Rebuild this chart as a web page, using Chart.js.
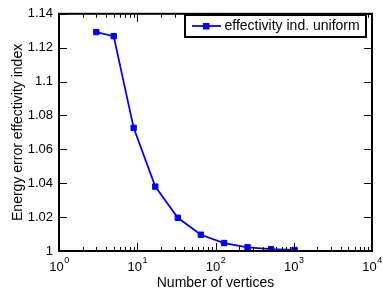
<!DOCTYPE html>
<html>
<head>
<meta charset="utf-8">
<script src="https://cdn.jsdelivr.net/npm/chart.js@4"></script>
<style>
  html, body { margin: 0; padding: 0; background: #fff; }
  #wrap { width: 383px; height: 288px; }
</style>
</head>
<body>
<div id="wrap"><canvas id="effChart"></canvas></div>
<script>
// data
const vertices = [3, 5, 9, 17, 33, 65, 129, 257, 513, 1025];
const effectivity = [1.1292, 1.1268, 1.0727, 1.038, 1.0196, 1.0096, 1.0047, 1.0022, 1.0011, 1.0006];
const xMajorTicks = [1, 10, 100, 1000, 10000];
const xExponents = ['0', '1', '2', '3', '4'];
const seriesLabel = 'effectivity ind. uniform';

const FONT = '"Liberation Sans", Arial, sans-serif';

// box, inward ticks, superscript x labels and legend in the MATLAB look
const matlabAxes = {
  id: 'matlabAxes',
  afterDraw(chart) {
    const ctx = chart.ctx;
    const area = chart.chartArea;
    const xs = chart.scales.x;
    const ys = chart.scales.y;

    ctx.save();
    ctx.strokeStyle = '#000';
    ctx.lineWidth = 1;

    // y ticks, left and right
    ys.ticks.forEach(t => {
      const y = Math.round(ys.getPixelForValue(t.value)) + 0.5;
      ctx.beginPath();
      ctx.moveTo(area.left, y); ctx.lineTo(area.left + 8, y);
      ctx.moveTo(area.right, y); ctx.lineTo(area.right - 8, y);
      ctx.stroke();
    });

    // x ticks, bottom and top (major + minor)
    xMajorTicks.forEach((v, i) => {
      const mults = i < xMajorTicks.length - 1 ? [1, 2, 3, 4, 5, 6, 7, 8, 9] : [1];
      mults.forEach(m => {
        const len = m === 1 ? 8 : 4;
        const x = Math.round(xs.getPixelForValue(v * m)) + 0.5;
        ctx.beginPath();
        ctx.moveTo(x, area.bottom); ctx.lineTo(x, area.bottom - len);
        ctx.moveTo(x, area.top); ctx.lineTo(x, area.top + len);
        ctx.stroke();
      });
    });

    // frame
    ctx.lineWidth = 2;
    ctx.strokeRect(area.left, area.top, area.right - area.left, area.bottom - area.top);

    // x tick labels as 10^k
    ctx.fillStyle = '#000';
    ctx.textBaseline = 'alphabetic';
    xMajorTicks.forEach((v, i) => {
      const x = xs.getPixelForValue(v);
      ctx.font = '13px ' + FONT;
      const wBase = ctx.measureText('10').width;
      ctx.font = '9px ' + FONT;
      const wExp = ctx.measureText(xExponents[i]).width;
      const x0 = x - (wBase + wExp) / 2;
      ctx.font = '13px ' + FONT;
      ctx.textAlign = 'left';
      ctx.fillText('10', x0, area.bottom + 20);
      ctx.font = '9px ' + FONT;
      ctx.fillText(xExponents[i], x0 + wBase + 0.5, area.bottom + 12);
    });

    // legend
    const ds = chart.data.datasets[0];
    const lx = 185, ly = 15, lw = 181, lh = 22;
    ctx.fillStyle = '#fff';
    ctx.fillRect(lx, ly, lw, lh);
    ctx.lineWidth = 2;
    ctx.strokeStyle = '#000';
    ctx.strokeRect(lx, ly, lw, lh);
    const my = ly + lh / 2;
    ctx.strokeStyle = ds.borderColor;
    ctx.lineWidth = 1.8;
    ctx.beginPath();
    ctx.moveTo(lx + 7, my); ctx.lineTo(lx + 36, my);
    ctx.stroke();
    ctx.fillStyle = ds.backgroundColor;
    ctx.fillRect(lx + 18, my - 3, 6.5, 6.5);
    ctx.fillStyle = '#000';
    ctx.font = '14px ' + FONT;
    ctx.textAlign = 'left';
    ctx.textBaseline = 'middle';
    ctx.fillText(ds.label, lx + 39.5, my + 0.5);
    ctx.restore();
  }
};

new Chart(document.getElementById('effChart'), {
  type: 'line',
  data: {
    datasets: [{
      label: seriesLabel,
      data: vertices.map((v, i) => ({ x: v, y: effectivity[i] })),
      borderColor: '#0000ff',
      backgroundColor: '#0000ff',
      borderWidth: 1.8,
      pointStyle: 'rect',
      pointRadius: 3.8,
      pointBorderWidth: 1,
      tension: 0
    }]
  },
  options: {
    responsive: true,
    maintainAspectRatio: false,
    animation: false,
    layout: { padding: { top: 12, right: 11, left: 0, bottom: 0 } },
    plugins: {
      legend: { display: false },
      tooltip: { enabled: false }
    },
    scales: {
      x: {
        type: 'logarithmic',
        min: 1,
        max: 10000,
        grid: { display: false },
        border: { display: false },
        ticks: { display: false },
        title: {
          display: true,
          text: 'Number of vertices',
          color: '#000',
          font: { family: FONT, size: 14, lineHeight: 0.7 },
          padding: 0
        },
        afterFit(scale) { scale.height = 37; }
      },
      y: {
        min: 1,
        max: 1.14,
        grid: { display: false, drawTicks: false },
        border: { display: false },
        ticks: {
          stepSize: 0.02,
          padding: 6,
          color: '#000',
          font: { family: FONT, size: 13 },
          callback: v => String(Number(v.toFixed(2)))
        },
        title: {
          display: true,
          text: 'Energy error effectivity index',
          color: '#000',
          font: { family: FONT, size: 14, lineHeight: 1 },
          padding: { top: 11, bottom: 0 }
        },
        afterFit(scale) { scale.width = 59; }
      }
    }
  },
  plugins: [matlabAxes]
});
</script>
</body>
</html>
